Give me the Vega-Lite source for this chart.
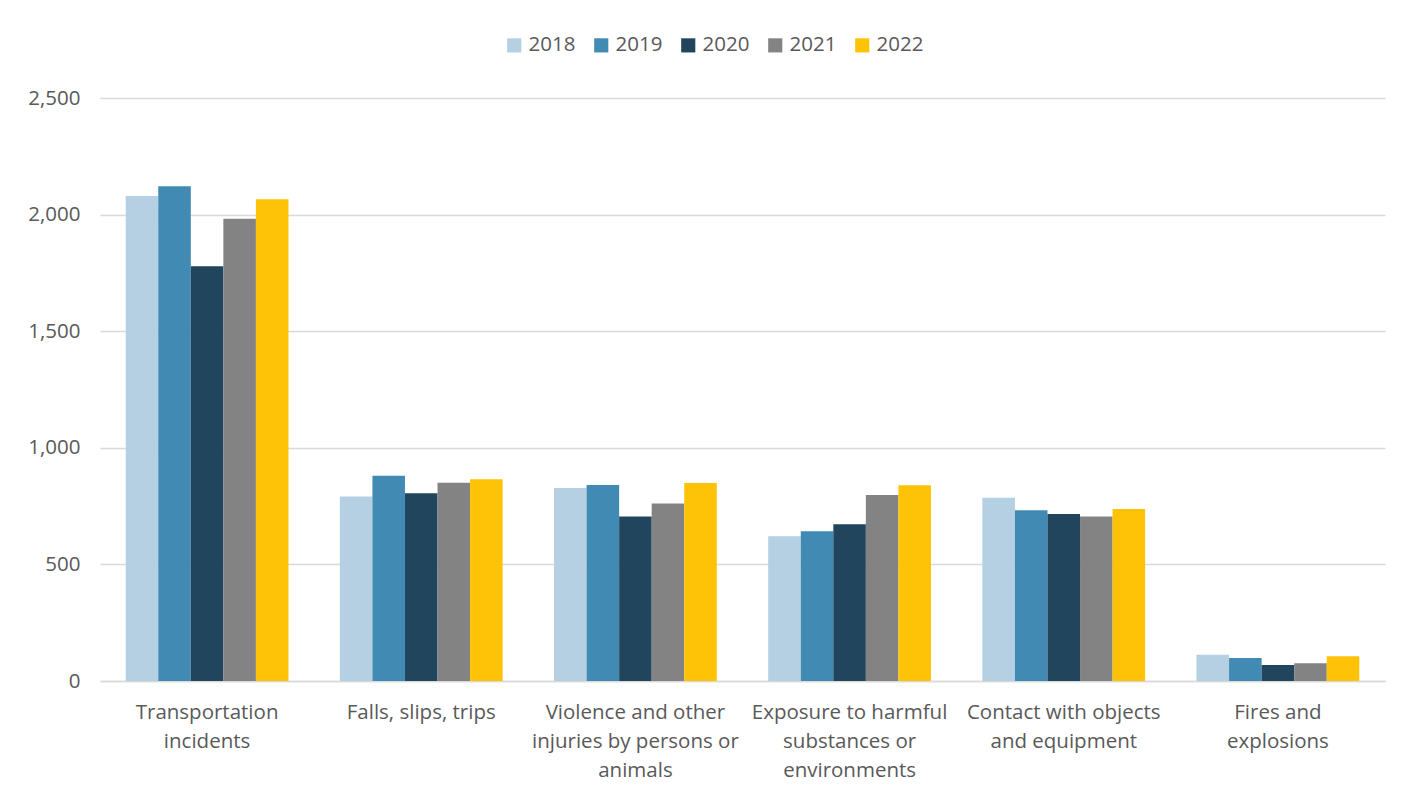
{
  "$schema": "https://vega.github.io/schema/vega-lite/v6.json",
  "width": 1285,
  "height": 583,
  "autosize": {"type": "none"},
  "padding": {"left": 100, "top": 98, "right": 31, "bottom": 117},
  "background": "white",
  "config": {
    "view": {"stroke": null},
    "font": "Open Sans",
    "axis": {"labelFont": "Open Sans", "labelColor": "#595959", "labelFontSize": 20.5},
    "legend": {"labelFont": "Open Sans", "labelColor": "#595959", "labelFontSize": 20.5}
  },
  "data": {
    "values": [
      {"cause": "Transportation incidents", "year": "2018", "deaths": 2080},
      {"cause": "Transportation incidents", "year": "2019", "deaths": 2122},
      {"cause": "Transportation incidents", "year": "2020", "deaths": 1778},
      {"cause": "Transportation incidents", "year": "2021", "deaths": 1982},
      {"cause": "Transportation incidents", "year": "2022", "deaths": 2066},
      {"cause": "Falls, slips, trips", "year": "2018", "deaths": 791},
      {"cause": "Falls, slips, trips", "year": "2019", "deaths": 880},
      {"cause": "Falls, slips, trips", "year": "2020", "deaths": 805},
      {"cause": "Falls, slips, trips", "year": "2021", "deaths": 850},
      {"cause": "Falls, slips, trips", "year": "2022", "deaths": 865},
      {"cause": "Violence and other injuries by persons or animals", "year": "2018", "deaths": 828},
      {"cause": "Violence and other injuries by persons or animals", "year": "2019", "deaths": 841},
      {"cause": "Violence and other injuries by persons or animals", "year": "2020", "deaths": 705},
      {"cause": "Violence and other injuries by persons or animals", "year": "2021", "deaths": 761},
      {"cause": "Violence and other injuries by persons or animals", "year": "2022", "deaths": 849},
      {"cause": "Exposure to harmful substances or environments", "year": "2018", "deaths": 621},
      {"cause": "Exposure to harmful substances or environments", "year": "2019", "deaths": 642},
      {"cause": "Exposure to harmful substances or environments", "year": "2020", "deaths": 672},
      {"cause": "Exposure to harmful substances or environments", "year": "2021", "deaths": 798},
      {"cause": "Exposure to harmful substances or environments", "year": "2022", "deaths": 839},
      {"cause": "Contact with objects and equipment", "year": "2018", "deaths": 786},
      {"cause": "Contact with objects and equipment", "year": "2019", "deaths": 732},
      {"cause": "Contact with objects and equipment", "year": "2020", "deaths": 716},
      {"cause": "Contact with objects and equipment", "year": "2021", "deaths": 705},
      {"cause": "Contact with objects and equipment", "year": "2022", "deaths": 738},
      {"cause": "Fires and explosions", "year": "2018", "deaths": 113},
      {"cause": "Fires and explosions", "year": "2019", "deaths": 99},
      {"cause": "Fires and explosions", "year": "2020", "deaths": 69},
      {"cause": "Fires and explosions", "year": "2021", "deaths": 76},
      {"cause": "Fires and explosions", "year": "2022", "deaths": 106}
    ]
  },
  "mark": {"type": "bar"},
  "encoding": {
    "x": {
      "field": "cause",
      "type": "nominal",
      "sort": null,
      "scale": {"paddingInner": 0.24, "paddingOuter": 0.12},
      "axis": {
        "title": null,
        "labelAngle": 0,
        "ticks": false,
        "domainColor": "#d9d9d9",
        "domainWidth": 1.5,
        "labelPadding": 21,
        "labelLineHeight": 29,
        "labelLimit": 300,
        "labelExpr": "{'Transportation incidents': ['Transportation', 'incidents'], 'Falls, slips, trips': ['Falls, slips, trips'], 'Violence and other injuries by persons or animals': ['Violence and other', 'injuries by persons or', 'animals'], 'Exposure to harmful substances or environments': ['Exposure to harmful', 'substances or', 'environments'], 'Contact with objects and equipment': ['Contact with objects', 'and equipment'], 'Fires and explosions': ['Fires and', 'explosions']}[datum.label]"
      }
    },
    "xOffset": {"field": "year", "type": "nominal"},
    "y": {
      "field": "deaths",
      "type": "quantitative",
      "scale": {"domain": [0, 2500]},
      "axis": {
        "title": null,
        "values": [0, 500, 1000, 1500, 2000, 2500],
        "format": ",d",
        "domain": false,
        "ticks": false,
        "labelPadding": 20,
        "gridColor": "#d9d9d9",
        "gridWidth": 1.5
      }
    },
    "color": {
      "field": "year",
      "type": "nominal",
      "scale": {
        "domain": ["2018", "2019", "2020", "2021", "2022"],
        "range": ["#B4D0E2", "#418AB3", "#21455C", "#838383", "#FEC306"]
      },
      "legend": {
        "title": null,
        "orient": "none",
        "legendX": 404,
        "legendY": -63,
        "direction": "horizontal",
        "symbolType": "square",
        "symbolSize": 200,
        "symbolStrokeWidth": 0,
        "labelOffset": 4,
        "columnPadding": 15
      }
    }
  }
}
